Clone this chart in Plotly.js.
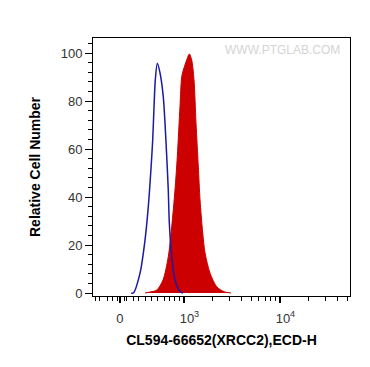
<!DOCTYPE html>
<html>
<head>
<meta charset="utf-8">
<script src="https://cdn.plot.ly/plotly-3.0.1.min.js"></script>
<style>html,body{margin:0;padding:0;background:#fff;}#chart{width:370px;height:367px;}</style>
</head>
<body>
<div id="chart"></div>
<script>
// x values are in display (logicle-transformed) units: 10^3 -> 3, 10^4 -> 4, 0 -> 2.333
var controlX = [2.45, 2.472, 2.542, 2.594, 2.628, 2.653, 2.674, 2.6875, 2.701, 2.722, 2.75, 2.784, 2.802, 2.820, 2.836, 2.847, 2.872, 2.906, 2.958, 2.99];
var controlY = [0, 0, 8.3, 22.1, 36.0, 50.0, 63.8, 77.5, 88.8, 95.7, 91.7, 81.8, 70.8, 56.8, 42.9, 29.2, 15.1, 5.4, 0.6, 0];

var sampleX = [2.594, 2.646, 2.716, 2.781, 2.836, 2.872, 2.906, 2.930, 2.958, 2.976, 2.993, 3.028, 3.055, 3.080, 3.104, 3.125, 3.149, 3.167, 3.195, 3.219, 3.271, 3.341, 3.42, 3.49];
var sampleY = [0, 0.4, 1.2, 5.4, 15.1, 27.6, 42.9, 56.8, 77.6, 90.1, 92.9, 97.1, 99.6, 97.1, 88.8, 70.8, 52.6, 38.75, 25.0, 16.7, 8.3, 2.6, 0.5, 0];

var xTickVals = [2.333, 3, 4];
var xTickText = ['0', '\u00a0\u00a0\u00a010<sup>3</sup>', '\u00a0\u00a0\u00a010<sup>4</sup>'];
var xMinorVals = [2.083, 2.115, 2.198, 2.25, 2.302, 2.375, 2.406, 2.469, 2.531, 2.594, 2.664, 2.729, 2.792, 2.854, 2.906, 2.951,
  3.301, 3.477, 3.602, 3.699, 3.778, 3.845, 3.903, 3.954, 4.301, 4.477, 4.602, 4.699];
var yTickVals = [0, 20, 40, 60, 80, 100];

var traces = [
  {x: sampleX, y: sampleY, type: 'scatter', mode: 'lines', fill: 'tozeroy',
   fillcolor: '#cc0000', line: {color: '#cc0000', width: 1, shape: 'spline', smoothing: 0.8}, hoverinfo: 'skip'},
  {x: controlX, y: controlY, type: 'scatter', mode: 'lines',
   line: {color: '#1a1aa6', width: 1.5, shape: 'spline', smoothing: 0.8}, hoverinfo: 'skip'}
];

var layout = {
  width: 370, height: 367,
  margin: {l: 93, r: 20, t: 38, b: 71},
  paper_bgcolor: '#fff', plot_bgcolor: '#fff',
  showlegend: false,
  font: {family: 'Liberation Sans, Arial, sans-serif', color: '#333'},
  xaxis: {
    range: [2.052, 4.729], showgrid: false, zeroline: false,
    showline: true, mirror: true, linecolor: '#000', linewidth: 1,
    ticks: 'outside', ticklen: 6, tickwidth: 2, tickcolor: '#000',
    tickmode: 'array', tickvals: xTickVals, ticktext: xTickText,
    tickfont: {size: 13, color: '#333'}, ticklabelstandoff: 4,
    minor: {tickmode: 'array', tickvals: xMinorVals, ticks: 'outside', ticklen: 4, tickwidth: 1, tickcolor: '#000', showgrid: false},
    title: {text: '<b>CL594-66652(XRCC2),ECD-H</b>', font: {size: 14, color: '#000'}, standoff: 10}
  },
  yaxis: {
    range: [-1.25, 106.25], showgrid: false, zeroline: false,
    showline: true, mirror: true, linecolor: '#000', linewidth: 1,
    ticks: 'outside', ticklen: 7, tickwidth: 1, tickcolor: '#000',
    tickmode: 'array', tickvals: yTickVals,
    tickfont: {size: 13, color: '#333'},
    minor: {dtick: 4, ticks: 'outside', ticklen: 4, tickwidth: 1, tickcolor: '#000', showgrid: false},
    title: {text: '<b>Relative Cell Number</b>', font: {size: 14, color: '#000'}, standoff: 16}
  },
  annotations: [{
    xref: 'paper', yref: 'paper', x: 0.97, y: 0.955, xanchor: 'right', yanchor: 'middle',
    text: 'WWW.PTGLAB.COM', showarrow: false,
    font: {size: 12, color: '#d4d4d4', family: 'Liberation Sans, Arial, sans-serif'}
  }]
};

Plotly.newPlot('chart', traces, layout, {displayModeBar: false, staticPlot: true});
</script>
</body>
</html>
